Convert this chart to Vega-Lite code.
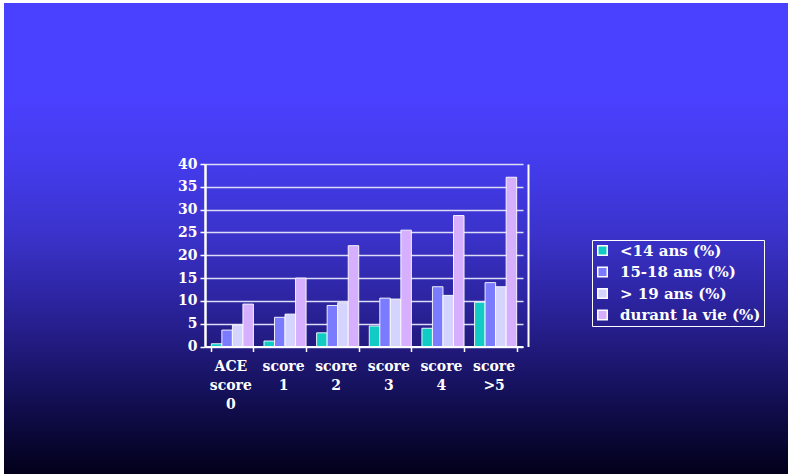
{
  "$schema": "https://vega.github.io/schema/vega-lite/v6.json",
  "autosize": "none",
  "width": 784,
  "height": 471,
  "padding": {"left": 4, "top": 3, "right": 0, "bottom": 0},
  "background": "#ffffff",
  "config": {
    "font": "DejaVu Serif",
    "view": {
      "stroke": null,
      "fill": {
        "gradient": "linear",
        "x1": 0, "y1": 0, "x2": 0, "y2": 1,
        "stops": [
          {"offset": 0, "color": "#4a40ff"},
          {"offset": 0.2, "color": "#4a40ff"},
          {"offset": 0.35, "color": "#433bea"},
          {"offset": 0.5, "color": "#3a32c8"},
          {"offset": 0.63, "color": "#2c24a0"},
          {"offset": 0.74, "color": "#20197a"},
          {"offset": 0.85, "color": "#120e50"},
          {"offset": 1, "color": "#02001a"}
        ]
      }
    }
  },
  "data": {
    "values": [
      {"score": "ACE score 0", "groupe": "<14 ans (%)", "pct": 0.6},
      {"score": "ACE score 0", "groupe": "15-18 ans (%)", "pct": 3.6},
      {"score": "ACE score 0", "groupe": "> 19 ans (%)", "pct": 4.7},
      {"score": "ACE score 0", "groupe": "durant la vie (%)", "pct": 9.3},
      {"score": "score 1", "groupe": "<14 ans (%)", "pct": 1.2},
      {"score": "score 1", "groupe": "15-18 ans (%)", "pct": 6.4},
      {"score": "score 1", "groupe": "> 19 ans (%)", "pct": 7.1},
      {"score": "score 1", "groupe": "durant la vie (%)", "pct": 15.0},
      {"score": "score 2", "groupe": "<14 ans (%)", "pct": 3.0},
      {"score": "score 2", "groupe": "15-18 ans (%)", "pct": 9.0},
      {"score": "score 2", "groupe": "> 19 ans (%)", "pct": 9.6},
      {"score": "score 2", "groupe": "durant la vie (%)", "pct": 22.1},
      {"score": "score 3", "groupe": "<14 ans (%)", "pct": 4.5},
      {"score": "score 3", "groupe": "15-18 ans (%)", "pct": 10.6},
      {"score": "score 3", "groupe": "> 19 ans (%)", "pct": 10.4},
      {"score": "score 3", "groupe": "durant la vie (%)", "pct": 25.5},
      {"score": "score 4", "groupe": "<14 ans (%)", "pct": 4.0},
      {"score": "score 4", "groupe": "15-18 ans (%)", "pct": 13.1},
      {"score": "score 4", "groupe": "> 19 ans (%)", "pct": 11.2},
      {"score": "score 4", "groupe": "durant la vie (%)", "pct": 28.7},
      {"score": "score >5", "groupe": "<14 ans (%)", "pct": 9.7},
      {"score": "score >5", "groupe": "15-18 ans (%)", "pct": 14.0},
      {"score": "score >5", "groupe": "> 19 ans (%)", "pct": 13.1},
      {"score": "score >5", "groupe": "durant la vie (%)", "pct": 37.1}
    ]
  },
  "layer": [
    {
      "mark": {"type": "bar", "stroke": "#ffffff", "strokeWidth": 1, "strokeOpacity": 0.9},
      "encoding": {
        "x": {
          "field": "score", "type": "nominal",
          "sort": ["ACE score 0", "score 1", "score 2", "score 3", "score 4", "score >5"],
          "scale": {"range": [201, 519], "paddingInner": 0.2, "paddingOuter": 0.12},
          "axis": {
            "orient": "bottom", "offset": -127.5, "title": null, "labelAngle": 0,
            "labelExpr": "isValid(datum.value) ? split(datum.value, ' ') : ''",
            "labelLineHeight": 19, "labelFontSize": 14, "labelFontWeight": "bold",
            "labelFont": "DejaVu Serif", "labelColor": "#ffffff", "labelPadding": 8,
            "labelOffset": -2,
            "tickBand": "extent", "tickSize": 5, "tickWidth": 1.5, "tickColor": "#ffffff",
            "domainColor": "#ffffff", "domainWidth": 2, "grid": false
          }
        },
        "xOffset": {
          "field": "groupe", "type": "nominal",
          "sort": ["<14 ans (%)", "15-18 ans (%)", "> 19 ans (%)", "durant la vie (%)"]
        },
        "y": {
          "field": "pct", "type": "quantitative",
          "scale": {"domain": [0, 40], "range": [343.5, 161], "nice": false},
          "axis": {
            "orient": "left", "offset": -201, "title": null,
            "values": [0, 5, 10, 15, 20, 25, 30, 35, 40],
            "labelFontSize": 14, "labelFontWeight": "bold", "labelFont": "DejaVu Serif",
            "labelColor": "#ffffff", "labelPadding": 3,
            "tickSize": 5, "tickWidth": 1.5, "tickColor": "#ffffff",
            "domainColor": "#ffffff", "domainWidth": 2.5,
            "grid": true, "gridColor": "#dcdcf6", "gridWidth": 1.6, "gridOpacity": 1
          }
        },
        "color": {
          "field": "groupe", "type": "nominal",
          "scale": {
            "domain": ["<14 ans (%)", "15-18 ans (%)", "> 19 ans (%)", "durant la vie (%)"],
            "range": ["#10ccc4", "#7b7bff", "#d4d4ff", "#d6b0ff"]
          },
          "legend": {
            "orient": "none", "legendX": 588, "legendY": 237, "title": null,
            "direction": "vertical", "symbolType": "square", "symbolSize": 90,
            "symbolStrokeColor": "#ffffff", "symbolStrokeWidth": 1.5, "symbolOpacity": 1,
            "labelColor": "#ffffff", "labelFont": "DejaVu Serif", "labelFontWeight": "bold",
            "labelFontSize": 15, "labelOffset": 10, "rowPadding": 4.5, "padding": 3,
            "strokeColor": "#ffffff"
          }
        }
      }
    },
    {
      "mark": {"type": "bar", "opacity": 0},
      "encoding": {
        "x": {"field": "score", "type": "nominal", "sort": ["ACE score 0", "score 1", "score 2", "score 3", "score 4", "score >5"]},
        "y": {
          "field": "pct", "type": "quantitative",
          "axis": {
            "orient": "right", "offset": -260, "title": null, "labels": false, "ticks": false,
            "grid": false, "domainColor": "#ffffff", "domainWidth": 2
          }
        }
      }
    }
  ],
  "resolve": {"axis": {"y": "independent"}}
}
